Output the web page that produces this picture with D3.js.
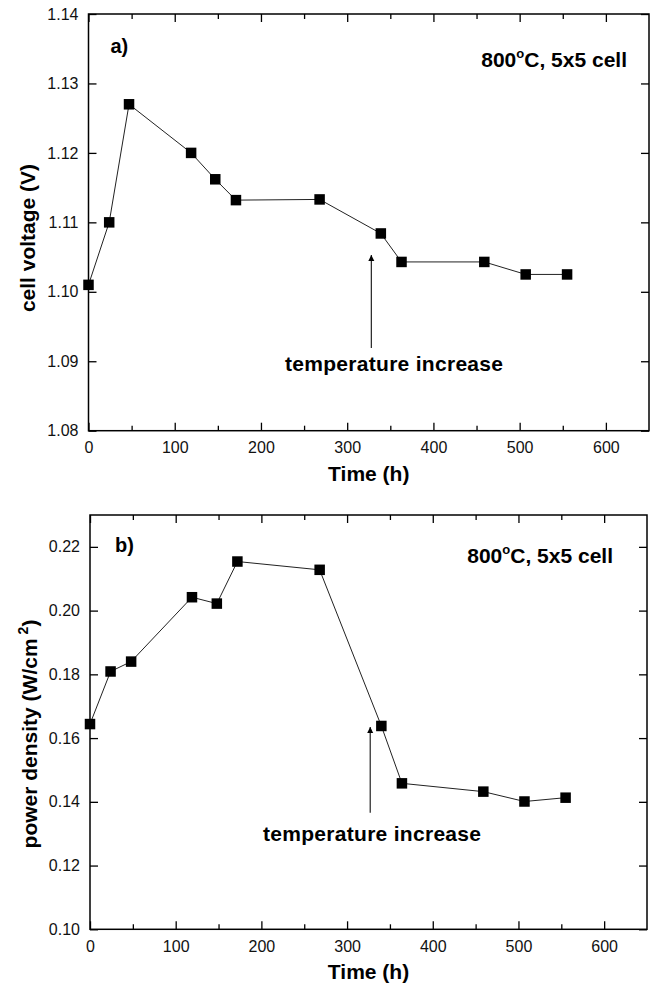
<!DOCTYPE html>
<html>
<head>
<meta charset="utf-8">
<script src="https://cdn.jsdelivr.net/npm/d3@7"></script>
<style>
  html, body { margin: 0; padding: 0; background: #fff; }
  svg { display: block; }
  .tick text { font-family: "Liberation Sans", Arial, sans-serif; font-size: 16px; fill: #111; }
  .bold { font-family: "Liberation Sans", Arial, sans-serif; font-weight: bold; fill: #000; }
</style>
</head>
<body>
<svg id="chart" width="661" height="989"></svg>
<script>
// ---- data ----
const timeA = [0, 24, 47, 119, 147, 171, 268, 339, 363, 459, 507, 555];
const voltage = [1.101, 1.110, 1.127, 1.120, 1.1162, 1.1132, 1.1133, 1.1084, 1.1043, 1.1043, 1.1025, 1.1025];
const timeB = [0, 24, 48, 119, 148, 172, 268, 340, 364, 459, 507, 555];
const power = [0.1644, 0.1809, 0.1840, 0.2042, 0.2022, 0.2154, 0.2128, 0.1638, 0.1458, 0.1432, 0.1401, 0.1413];
const xTicks = [0, 100, 200, 300, 400, 500, 600];
const xMinor = [50, 150, 250, 350, 450, 550];
const yTicksA = [1.08, 1.09, 1.10, 1.11, 1.12, 1.13, 1.14];
const yTicksB = [0.10, 0.12, 0.14, 0.16, 0.18, 0.20, 0.22];
const arrowA = { t: 328, from: 1.0919, to: 1.1053 };
const arrowB = { t: 327, from: 0.1366, to: 0.1635 };

const svg = d3.select("#chart");
svg.append("rect").attr("width", 661).attr("height", 989).attr("fill", "#fff");

const defs = svg.append("defs");
defs.append("marker").attr("id", "arrowhead")
  .attr("viewBox", "0 0 10 10").attr("refX", 10).attr("refY", 5)
  .attr("markerWidth", 6).attr("markerHeight", 12).attr("markerUnits", "userSpaceOnUse")
  .attr("orient", "auto")
  .append("path").attr("d", "M0,0 L10,5 L0,10 Z").attr("fill", "#000");

function panel(cfg) {
  const x = d3.scaleLinear().domain([0, 650]).range([cfg.left, cfg.right]);
  const y = d3.scaleLinear().domain(cfg.yDomain).range([cfg.bottom, cfg.top]);
  const g = svg.append("g");

  // frame
  g.append("rect").attr("x", cfg.left).attr("y", cfg.top)
    .attr("width", cfg.right - cfg.left).attr("height", cfg.bottom - cfg.top)
    .attr("fill", "none").attr("stroke", "#000").attr("stroke-width", 1.5);

  // bottom axis (major)
  const xb = g.append("g").attr("transform", `translate(0,${cfg.bottom})`)
    .call(d3.axisBottom(x).tickValues(xTicks).tickFormat(d3.format("d"))
      .tickSizeInner(-8).tickSizeOuter(0).tickPadding(11));
  // minor bottom
  g.append("g").attr("transform", `translate(0,${cfg.bottom})`)
    .call(d3.axisBottom(x).tickValues(xMinor).tickFormat("").tickSizeInner(-5).tickSizeOuter(0));
  // top axis
  g.append("g").attr("transform", `translate(0,${cfg.top})`)
    .call(d3.axisTop(x).tickValues(xTicks).tickFormat("").tickSizeInner(-8).tickSizeOuter(0));
  g.append("g").attr("transform", `translate(0,${cfg.top})`)
    .call(d3.axisTop(x).tickValues(xMinor).tickFormat("").tickSizeInner(-5).tickSizeOuter(0));
  // left axis
  g.append("g").attr("transform", `translate(${cfg.left},0)`)
    .call(d3.axisLeft(y).tickValues(cfg.yTicks).tickFormat(d3.format(".2f"))
      .tickSizeInner(-8).tickSizeOuter(0).tickPadding(10));
  // right axis
  g.append("g").attr("transform", `translate(${cfg.right},0)`)
    .call(d3.axisRight(y).tickValues(cfg.yTicks).tickFormat("").tickSizeInner(-8).tickSizeOuter(0));

  g.selectAll(".domain").remove();
  g.selectAll(".tick line").attr("stroke", "#000").attr("stroke-width", 1.3);
  g.selectAll(".tick text").attr("font-family", null).attr("font-size", null).attr("fill", "#111");

  // series line
  const pts = cfg.xs.map((t, i) => [t, cfg.ys[i]]);
  g.append("path").datum(pts)
    .attr("d", d3.line().x(d => x(d[0])).y(d => y(d[1])))
    .attr("fill", "none").attr("stroke", "#222").attr("stroke-width", 1);
  // markers
  const s = 10.5;
  g.selectAll("rect.pt").data(pts).join("rect").attr("class", "pt")
    .attr("x", d => x(d[0]) - s / 2).attr("y", d => y(d[1]) - s / 2)
    .attr("width", s).attr("height", s).attr("fill", "#000");

  // arrow
  g.append("line")
    .attr("x1", x(cfg.arrow.t)).attr("x2", x(cfg.arrow.t))
    .attr("y1", y(cfg.arrow.from)).attr("y2", y(cfg.arrow.to))
    .attr("stroke", "#222").attr("stroke-width", 1.2)
    .attr("marker-end", "url(#arrowhead)");

  // texts
  g.append("text").attr("class", "bold").attr("x", cfg.left + cfg.tagDx).attr("y", cfg.top + cfg.tagDy)
    .attr("font-size", 20).text(cfg.tag);
  const cond = g.append("text").attr("class", "bold").attr("text-anchor", "end")
    .attr("x", cfg.right - cfg.condDx).attr("y", cfg.top + cfg.condDy).attr("font-size", 21);
  cond.append("tspan").text("800");
  cond.append("tspan").attr("font-size", 13).attr("dy", -9).text("o");
  cond.append("tspan").attr("dy", 9).text("C, 5x5 cell");

  g.append("text").attr("class", "bold").attr("x", cfg.noteX).attr("y", cfg.noteY)
    .attr("font-size", 21).attr("textLength", 218).text("temperature increase");

  g.append("text").attr("class", "bold").attr("text-anchor", "middle")
    .attr("x", (cfg.left + cfg.right) / 2).attr("y", cfg.bottom + 50)
    .attr("font-size", 21).text("Time (h)");

  const yl = g.append("text").attr("class", "bold").attr("text-anchor", "middle")
    .attr("transform", `translate(${cfg.ylabX},${cfg.ylabY}) rotate(-90)`)
    .attr("font-size", 21);
  cfg.ylabel(yl);
}

panel({
  left: 88.5, right: 649, top: 14, bottom: 430.7,
  yDomain: [1.08, 1.14], yTicks: yTicksA,
  xs: timeA, ys: voltage, arrow: arrowA,
  tag: "a)", tagDx: 22, tagDy: 39,
  condDx: 22, condDy: 53,
  noteX: 285, noteY: 371,
  ylabX: 35, ylabY: 238,
  ylabel: t => t.text("cell voltage (V)")
});

panel({
  left: 90, right: 647, top: 515, bottom: 929.3,
  yDomain: [0.10, 0.23], yTicks: yTicksB,
  xs: timeB, ys: power, arrow: arrowB,
  tag: "b)", tagDx: 25, tagDy: 37,
  condDx: 34, condDy: 48,
  noteX: 263, noteY: 841,
  ylabX: 37, ylabY: 734,
  ylabel: t => {
    t.append("tspan").text("power density (W/cm");
    t.append("tspan").attr("font-size", 14).attr("dx", 4).attr("dy", -9).text("2");
    t.append("tspan").attr("dy", 9).text(")");
  }
});
</script>
</body>
</html>
